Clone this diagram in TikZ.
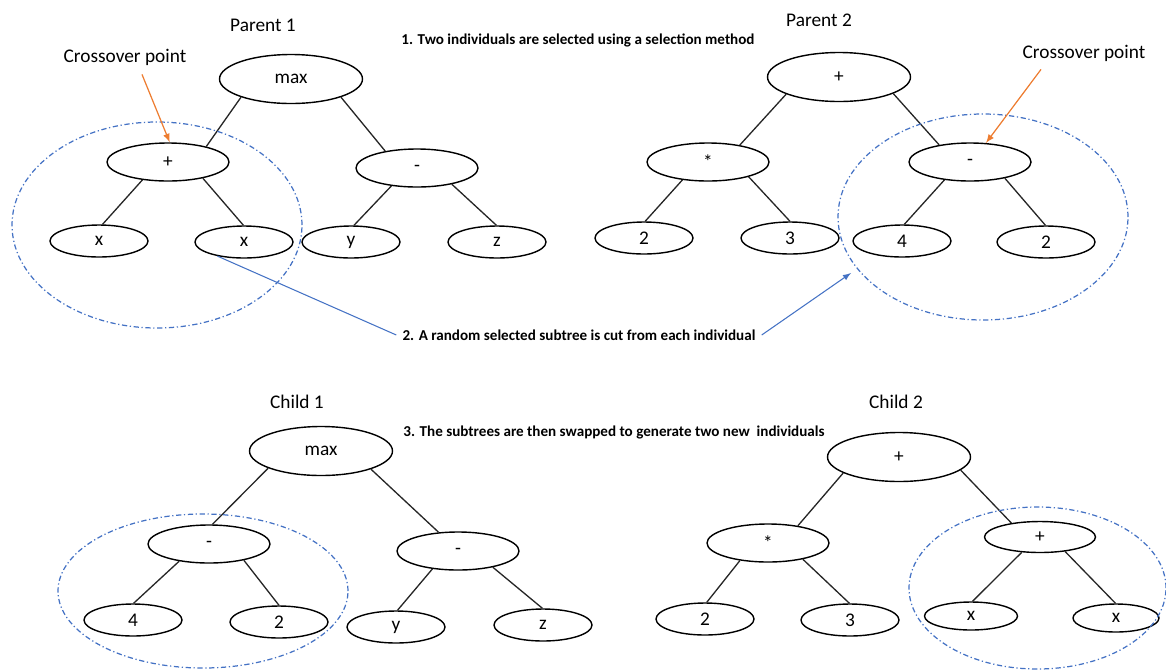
\documentclass[tikz,border=0pt]{standalone}
\usepackage{fontspec}
\setmainfont{Carlito}
\usepackage{xcolor}
\usetikzlibrary{shapes}
\usetikzlibrary{calc}

\definecolor{cutblue}{RGB}{68,114,196}
\definecolor{pointorange}{RGB}{237,125,49}

\tikzset{
  gpnode/.style={draw, ellipse, line width=0.8pt, inner sep=0pt, font=\fontsize{11}{13}\selectfont},
  rootnode/.style={gpnode, minimum width=2.86cm, minimum height=0.98cm},
  opnode/.style={gpnode, minimum width=2.44cm, minimum height=0.76cm},
  leafnode/.style={gpnode, minimum width=1.96cm, minimum height=0.64cm},
  treeedge/.style={line width=0.75pt, black!85},
  subtree/.style={cutblue, line width=0.7pt, dash pattern=on 3pt off 1.5pt on 0.7pt off 1.5pt},
  treelabel/.style={font=\fontsize{11}{13}\selectfont},
  stepnote/.style={font=\bfseries\fontsize{8.6}{10}\selectfont}
}

\begin{document}
\begin{tikzpicture}
    \useasboundingbox (0,0) rectangle (23.32,-13.38);
    % parent 1
    \node[treelabel] (p1lab) at (5.26,-0.50) {Parent 1};
    \node[treelabel] (cp1) at (2.50,-1.14) {Crossover point};
    \node[rootnode] (p1r) at (5.82,-1.58) {max};
    \node[opnode] (p1a) at (3.36,-3.24) {+};
    \node[opnode] (p1b) at (8.34,-3.36) {-};
    \node[leafnode] (p1aa) at (1.98,-4.82) {x};
    \node[leafnode] (p1ab) at (4.88,-4.84) {x};
    \node[leafnode] (p1ba) at (7.02,-4.84) {y};
    \node[leafnode] (p1bb) at (9.94,-4.84) {z};
    \draw[treeedge] (p1r.200) -- (p1a.22);
    \draw[treeedge] (p1r.340) -- (p1b.152);
    \draw[treeedge] (p1a.215) -- (p1aa.78);
    \draw[treeedge] (p1a.335) -- (p1ab.92);
    \draw[treeedge] (p1b.215) -- (p1ba.80);
    \draw[treeedge] (p1b.335) -- (p1bb.92);
    \draw[subtree] (3.14,-4.50) ellipse (2.90 and 2.06);
    \draw[pointorange, line width=0.7pt, -latex] (cp1.south) ++(0.34,-0.06) -- (p1a.85);

    % parent 2
    \node[treelabel] (p2lab) at (16.38,-0.40) {Parent 2};
    \node[treelabel] (cp2) at (21.68,-1.06) {Crossover point};
    \node[rootnode] (p2r) at (16.78,-1.54) {+};
    \node[opnode] (p2a) at (14.16,-3.24) {*};
    \node[opnode] (p2b) at (19.40,-3.24) {-};
    \node[leafnode] (p2aa) at (12.88,-4.76) {2};
    \node[leafnode] (p2ab) at (15.80,-4.76) {3};
    \node[leafnode] (p2ba) at (18.04,-4.82) {4};
    \node[leafnode] (p2bb) at (20.92,-4.84) {2};
    \draw[treeedge] (p2r.198) -- (p2a.28);
    \draw[treeedge] (p2r.343) -- (p2b.151);
    \draw[treeedge] (p2a.215) -- (p2aa.86);
    \draw[treeedge] (p2a.340) -- (p2ab.90);
    \draw[treeedge] (p2b.215) -- (p2ba.82);
    \draw[treeedge] (p2b.335) -- (p2bb.92);
    \draw[subtree] (19.66,-4.34) ellipse (2.90 and 2.06);
    \draw[pointorange, line width=0.7pt, -latex] (cp2.south) ++(-0.86,-0.04) -- (p2b.50);

    % steps
    \node[stepnote] (step1) at (11.56,-0.80) {1. Two individuals are selected using a selection method};
    \node[stepnote] (step2) at (11.58,-6.70) {2. A random selected subtree is cut from each individual};
    \node[stepnote] (step3) at (12.28,-8.64) {3. The subtrees are then swapped to generate two new\ \ individuals};
    \coordinate (p2cut) at (17.02,-5.46);
    \draw[cutblue, line width=0.6pt] (p1ab.208) -- (step2.west);
    \draw[cutblue, line width=0.6pt, -latex] (step2.east) -- (p2cut);

    % child 1
    \node[treelabel] (c1lab) at (5.94,-8.04) {Child 1};
    \node[rootnode] (c1r) at (6.42,-9.02) {max};
    \node[opnode] (c1a) at (4.18,-10.88) {-};
    \node[opnode] (c1b) at (9.16,-11.02) {-};
    \node[leafnode] (c1aa) at (2.66,-12.40) {4};
    \node[leafnode] (c1ab) at (5.58,-12.44) {2};
    \node[leafnode] (c1ba) at (7.92,-12.54) {y};
    \node[leafnode] (c1bb) at (10.86,-12.50) {z};
    \draw[treeedge] (c1r.198) -- (c1a.80);
    \draw[treeedge] (c1r.340) -- (c1b.136);
    \draw[treeedge] (c1a.210) -- (c1aa.88);
    \draw[treeedge] (c1a.335) -- (c1ab.90);
    \draw[treeedge] (c1b.215) -- (c1ba.85);
    \draw[treeedge] (c1b.335) -- (c1bb.92);
    \draw[subtree] (4.06,-11.82) ellipse (2.90 and 1.54);

    % child 2
    \node[treelabel] (c2lab) at (17.92,-8.04) {Child 2};
    \node[rootnode] (c2r) at (17.98,-9.14) {+};
    \node[opnode] (c2a) at (15.36,-10.86) {*};
    \node[opnode, minimum width=2.22cm, minimum height=0.62cm] (c2b) at (20.80,-10.74) {+};
    \node[leafnode] (c2aa) at (14.10,-12.38) {2};
    \node[leafnode] (c2ab) at (17.00,-12.40) {3};
    \node[leafnode, minimum width=1.86cm, minimum height=0.56cm] (c2ba) at (19.42,-12.32) {x};
    \node[leafnode, minimum width=1.72cm, minimum height=0.56cm] (c2bb) at (22.32,-12.36) {x};
    \draw[treeedge] (c2r.196) -- (c2a.30);
    \draw[treeedge] (c2r.348) -- (c2b.154);
    \draw[treeedge] (c2a.212) -- (c2aa.84);
    \draw[treeedge] (c2a.335) -- (c2ab.92);
    \draw[treeedge] (c2b.220) -- (c2ba.84);
    \draw[treeedge] (c2b.330) -- (c2bb.92);
    \draw[subtree] (20.75,-11.76) ellipse (2.57 and 1.62);
\end{tikzpicture}
\end{document}
